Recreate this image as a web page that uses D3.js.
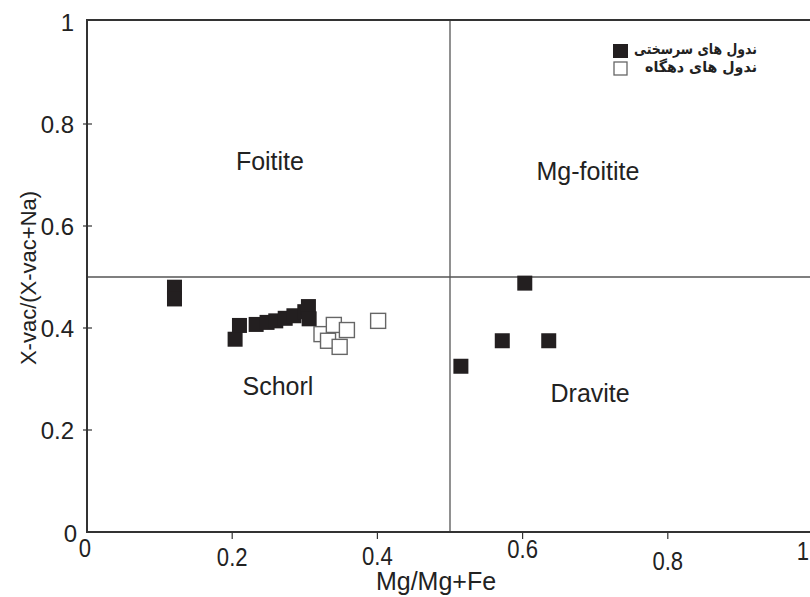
<!DOCTYPE html>
<html lang="en">
<head>
    <meta charset="UTF-8">
    <title>Tourmaline X-site diagram</title>
    <style>
        body{ margin:0; background:#fff; }
        svg{ display:block; font-family:"Liberation Sans", Arial, sans-serif; }
    </style>
</head>
<body>
    <script src="https://cdnjs.cloudflare.com/ajax/libs/d3/7.8.2/d3.min.js"></script>
    <script>

        // nodules "سرسختی" (filled squares)
        const hardX = [0.1205, 0.1205, 0.204, 0.210, 0.233, 0.248, 0.260, 0.273, 0.285, 0.300, 0.305, 0.306, 0.603, 0.572, 0.636, 0.515];
        const hardY = [0.480, 0.457, 0.378, 0.405, 0.407, 0.411, 0.414, 0.419, 0.424, 0.432, 0.442, 0.418, 0.488, 0.375, 0.375, 0.325];

        // nodules "دهگاه" (open squares)
        const dehX = [0.323, 0.340, 0.358, 0.332, 0.348, 0.401];
        const dehY = [0.388, 0.406, 0.396, 0.375, 0.363, 0.414];

        const xTicks = [0.2, 0.4, 0.6, 0.8, 1];
        const yTicks = [0.2, 0.4, 0.6, 0.8, 1];

        const fieldNames = ["Foitite", "Mg-foitite", "Schorl", "Dravite"];
        const fieldX = [0.252, 0.690, 0.263, 0.693];
        const fieldY = [0.727, 0.708, 0.286, 0.273];

        const legendNames = ["ندول های سرسختی", "ندول های  دهگاه"];

        const w = 810;
        const h = 597;

        const svg = d3.select("body")
            .append("svg")
            .attr("width", w)
            .attr("height", h);

        const x = d3.scaleLinear().domain([0, 1]).range([87, 813]);
        const y = d3.scaleLinear().domain([0, 1]).range([532, 22]);

        // field divider lines at 0.5
        svg.append("line")
            .attr("x1", x(0)).attr("x2", w)
            .attr("y1", y(0.5)).attr("y2", y(0.5))
            .attr("stroke", "#555").attr("stroke-width", 1.3);
        svg.append("line")
            .attr("x1", x(0.5)).attr("x2", x(0.5))
            .attr("y1", y(1) - 2).attr("y2", y(0))
            .attr("stroke", "#555").attr("stroke-width", 1.3);

        // frame: left, bottom, top
        svg.append("path")
            .attr("d", `M${w},${y(1) - 2}H${x(0)}V${y(0)}H${w}`)
            .attr("fill", "none")
            .attr("stroke", "#333")
            .attr("stroke-width", 2);

        // y ticks (crossing the axis)
        svg.selectAll(".yt")
            .data(yTicks.filter(d => d < 1))
            .enter()
            .append("line")
                .attr("x1", x(0) - 4).attr("x2", x(0) + 5)
                .attr("y1", d => y(d)).attr("y2", d => y(d))
                .attr("stroke", "#333").attr("stroke-width", 1.2);

        svg.selectAll(".ytl")
            .data(yTicks)
            .enter()
            .append("text")
                .attr("x", 74)
                .attr("y", d => y(d) + 9)
                .attr("text-anchor", "end")
                .attr("font-size", 24)
                .attr("fill", "#222")
                .text(d => d);

        svg.append("text")
            .attr("x", 77).attr("y", 542)
            .attr("text-anchor", "end")
            .attr("font-size", 24).attr("fill", "#222")
            .text("0");

        // x ticks (below axis)
        svg.selectAll(".xt")
            .data(xTicks.filter(d => d < 1))
            .enter()
            .append("line")
                .attr("x1", d => x(d)).attr("x2", d => x(d))
                .attr("y1", y(0)).attr("y2", y(0) + 7)
                .attr("stroke", "#333").attr("stroke-width", 1.2);

        const xLabelDy = [9, 8, 1, 13, 3];
        svg.selectAll(".xtl")
            .data(xTicks)
            .enter()
            .append("text")
                .attr("transform", (d, i) => `translate(${Math.min(x(d), 803)},${y(0) + 25 + xLabelDy[i]}) scale(0.85,1)`)
                .attr("text-anchor", "middle")
                .attr("font-size", 26)
                .attr("fill", "#222")
                .text(d => d);

        svg.append("text")
            .attr("transform", `translate(85,${y(0) + 25}) scale(0.85,1)`)
            .attr("text-anchor", "middle")
            .attr("font-size", 26).attr("fill", "#222")
            .text("0");

        // axis titles
        svg.append("text")
            .attr("transform", "translate(436,590)")
            .attr("text-anchor", "middle")
            .attr("font-size", 25)
            .attr("fill", "#222")
            .text("Mg/Mg+Fe");

        svg.append("text")
            .attr("transform", "translate(36,278) rotate(-90)")
            .attr("text-anchor", "middle")
            .attr("font-size", 22)
            .attr("fill", "#222")
            .text("X-vac/(X-vac+Na)");

        // field names
        svg.selectAll(".field")
            .data(fieldNames)
            .enter()
            .append("text")
                .attr("x", (d, i) => x(fieldX[i]))
                .attr("y", (d, i) => y(fieldY[i]) + 9)
                .attr("text-anchor", "middle")
                .attr("font-size", 25)
                .attr("fill", "#222")
                .text(d => d);

        const side = 15;

        // filled squares
        svg.selectAll(".hard")
            .data(hardX)
            .enter()
            .append("rect")
                .attr("x", d => x(d) - side / 2)
                .attr("y", (d, i) => y(hardY[i]) - side / 2)
                .attr("width", side).attr("height", side)
                .attr("fill", "#231f20");

        // open squares
        svg.selectAll(".deh")
            .data(dehX)
            .enter()
            .append("rect")
                .attr("x", d => x(d) - side / 2)
                .attr("y", (d, i) => y(dehY[i]) - side / 2)
                .attr("width", side).attr("height", side)
                .attr("fill", "#fff")
                .attr("stroke", "#666")
                .attr("stroke-width", 1.4);

        // legend
        const legLen = [123, 112];
        const leg = svg.append("g");
        leg.append("rect")
            .attr("x", 613).attr("y", 44).attr("width", 15).attr("height", 14)
            .attr("fill", "#231f20");
        leg.append("rect")
            .attr("x", 614).attr("y", 62).attr("width", 13).attr("height", 13)
            .attr("fill", "#fff").attr("stroke", "#666").attr("stroke-width", 1.3);
        leg.selectAll("text")
            .data(legendNames)
            .enter()
            .append("text")
                .attr("x", (d, i) => 757 - legLen[i])
                .attr("y", (d, i) => 54 + i * 18)
                .attr("textLength", (d, i) => legLen[i])
                .attr("lengthAdjust", "spacingAndGlyphs")
                .attr("font-family", "'DejaVu Sans', sans-serif")
                .attr("font-weight", "bold")
                .attr("font-size", 15)
                .attr("fill", "#222")
                .text(d => d);

    </script>
</body>
</html>
